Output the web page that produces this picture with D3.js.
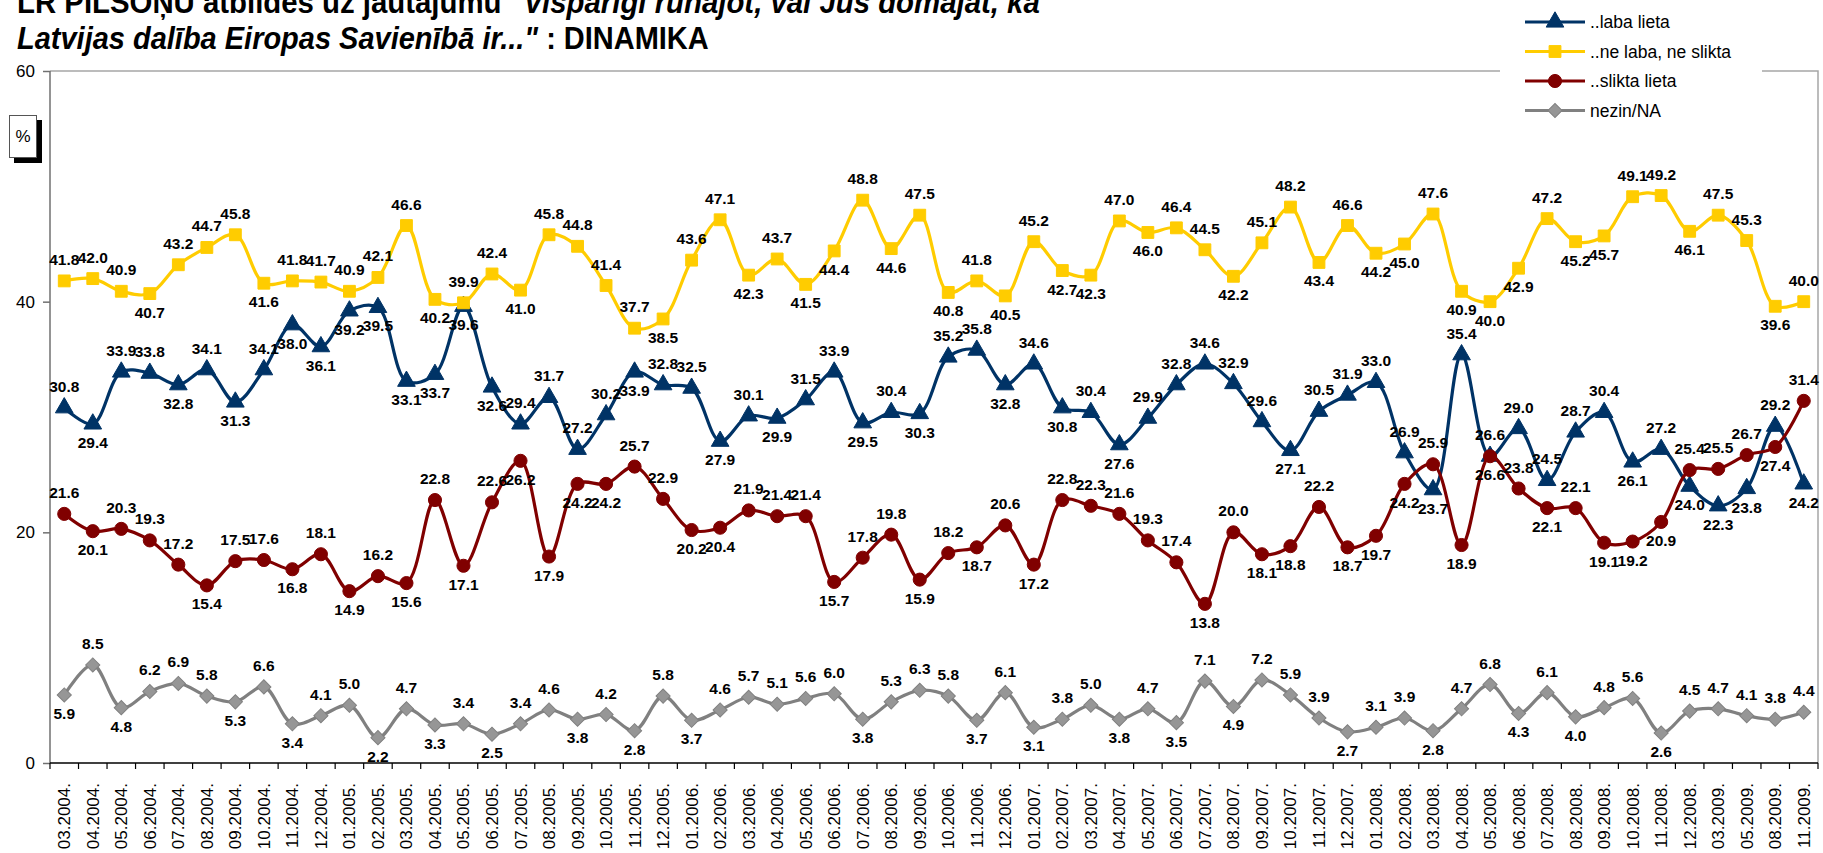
<!DOCTYPE html>
<html lang="lv">
<head>
<meta charset="UTF-8">
<title>Dinamika</title>
<script src="https://cdn.jsdelivr.net/npm/d3@7"></script>
<style>
  body { margin: 0; background: #fff; }
  svg { display: block; font-family: "Liberation Sans", Arial, sans-serif; }
  .lbl { font-size: 15.5px; font-weight: bold; fill: #000; }
  .xlab { font-size: 17px; fill: #000; }
  .ytick text { font-size: 17px; fill: #000; }
  .legend text { font-size: 17.5px; fill: #000; }
  .title { font-family: "Liberation Sans Narrow", "Arial Narrow", "Liberation Sans", Arial, sans-serif; font-size: 31px; font-weight: bold; }
</style>
</head>
<body>
<svg id="chart" width="1823" height="853"></svg>
<script>
// dati
var months = ["03.2004.","04.2004.","05.2004.","06.2004.","07.2004.","08.2004.","09.2004.","10.2004.","11.2004.","12.2004.",
  "01.2005.","02.2005.","03.2005.","04.2005.","05.2005.","06.2005.","07.2005.","08.2005.","09.2005.","10.2005.","11.2005.","12.2005.",
  "01.2006.","02.2006.","03.2006.","04.2006.","05.2006.","06.2006.","07.2006.","08.2006.","09.2006.","10.2006.","11.2006.","12.2006.",
  "01.2007.","02.2007.","03.2007.","04.2007.","05.2007.","06.2007.","07.2007.","08.2007.","09.2007.","10.2007.","11.2007.","12.2007.",
  "01.2008.","02.2008.","03.2008.","04.2008.","05.2008.","06.2008.","07.2008.","08.2008.","09.2008.","10.2008.","11.2008.","12.2008.",
  "03.2009.","05.2009.","08.2009.","11.2009."];

var labaLieta = [30.8,29.4,33.9,33.8,32.8,34.1,31.3,34.1,38.0,36.1,
  39.2,39.5,33.1,33.7,39.6,32.6,29.4,31.7,27.2,30.2,33.9,32.8,
  32.5,27.9,30.1,29.9,31.5,33.9,29.5,30.4,30.3,35.2,35.8,32.8,
  34.6,30.8,30.4,27.6,29.9,32.8,34.6,32.9,29.6,27.1,30.5,31.9,
  33.0,26.9,23.7,35.4,26.6,29.0,24.5,28.7,30.4,26.1,27.2,24.0,
  22.3,23.8,29.2,24.2];

var neLabaNeSlikta = [41.8,42.0,40.9,40.7,43.2,44.7,45.8,41.6,41.8,41.7,
  40.9,42.1,46.6,40.2,39.9,42.4,41.0,45.8,44.8,41.4,37.7,38.5,
  43.6,47.1,42.3,43.7,41.5,44.4,48.8,44.6,47.5,40.8,41.8,40.5,
  45.2,42.7,42.3,47.0,46.0,46.4,44.5,42.2,45.1,48.2,43.4,46.6,
  44.2,45.0,47.6,40.9,40.0,42.9,47.2,45.2,45.7,49.1,49.2,46.1,
  47.5,45.3,39.6,40.0];

var sliktaLieta = [21.6,20.1,20.3,19.3,17.2,15.4,17.5,17.6,16.8,18.1,
  14.9,16.2,15.6,22.8,17.1,22.6,26.2,17.9,24.2,24.2,25.7,22.9,
  20.2,20.4,21.9,21.4,21.4,15.7,17.8,19.8,15.9,18.2,18.7,20.6,
  17.2,22.8,22.3,21.6,19.3,17.4,13.8,20.0,18.1,18.8,22.2,18.7,
  19.7,24.2,25.9,18.9,26.6,23.8,22.1,22.1,19.1,19.2,20.9,25.4,
  25.5,26.7,27.4,31.4];

var nezinNA = [5.9,8.5,4.8,6.2,6.9,5.8,5.3,6.6,3.4,4.1,
  5.0,2.2,4.7,3.3,3.4,2.5,3.4,4.6,3.8,4.2,2.8,5.8,
  3.7,4.6,5.7,5.1,5.6,6.0,3.8,5.3,6.3,5.8,3.7,6.1,
  3.1,3.8,5.0,3.8,4.7,3.5,7.1,4.9,7.2,5.9,3.9,2.7,
  3.1,3.9,2.8,4.7,6.8,4.3,6.1,4.0,4.8,5.6,2.6,4.5,
  4.7,4.1,3.8,4.4];

var yTicks = [0, 20, 40, 60];

var series = [
  { name: "..laba lieta", values: labaLieta, color: "#003366", fill: "#003366", shape: "triangle" },
  { name: "..ne laba, ne slikta", values: neLabaNeSlikta, color: "#FFCC00", fill: "#FFCC00", shape: "square" },
  { name: "..slikta lieta", values: sliktaLieta, color: "#800000", fill: "#800000", shape: "circle" },
  { name: "nezin/NA", values: nezinNA, color: "#808080", fill: "#969696", shape: "diamond" }
];

var svg = d3.select("#chart");
var pLeft = 50, pRight = 1818, pTop = 71, pBottom = 763;

var x = d3.scaleBand().domain(months).range([pLeft, pRight]).padding(0);
var y = d3.scaleLinear().domain([0, 60]).range([pBottom, pTop]);
var bw = x.bandwidth();
var cx = function (i) { return x(months[i]) + bw / 2; };

// virsraksts (augšējā rinda nogriezta)
function titleLine(yPos, parts, targetRight) {
  var t = svg.append("text").attr("class", "title").attr("x", 0).attr("y", 0);
  parts.forEach(function (p) {
    t.append("tspan").attr("font-style", p.it ? "italic" : "normal").text(p.t);
  });
  var w = t.node().getBBox().width;
  var sx = (targetRight - 17) / w;
  t.attr("transform", "translate(17," + yPos + ") scale(" + sx + ",1)");
}
titleLine(13, [{ t: "LR PILSOŅU atbildes uz jautājumu ", it: false },
               { t: "\"Vispārīgi runājot, vai Jūs domājat, ka", it: true }], 1040);
titleLine(49, [{ t: "Latvijas dalība Eiropas Savienībā ir...\"", it: true },
               { t: " : DINAMIKA", it: false }], 709);

// rāmis
svg.append("path")
  .attr("d", "M" + pLeft + "," + pTop + "H" + pRight + "V" + pBottom)
  .attr("fill", "none").attr("stroke", "#a6a6a6").attr("stroke-width", 1.5);

// y ass
var yAxis = svg.append("g").attr("class", "ytick")
  .attr("transform", "translate(" + pLeft + ",0)")
  .call(d3.axisLeft(y).tickValues(yTicks).tickSize(7).tickPadding(8).tickFormat(d3.format("d")));
yAxis.selectAll("path,line").attr("stroke", "#707070").attr("stroke-width", 1.5);
yAxis.select(".domain").attr("d", "M0," + pTop + "V" + pBottom);
yAxis.attr("font-family", null).attr("font-size", null);

// x ass
svg.append("line").attr("x1", pLeft).attr("x2", pRight).attr("y1", pBottom).attr("y2", pBottom)
  .attr("stroke", "#000").attr("stroke-width", 1.5);
var edges = months.map(function (m) { return x(m); }).concat([pRight]);
svg.append("g").selectAll("line").data(edges).enter().append("line")
  .attr("x1", function (d) { return d; }).attr("x2", function (d) { return d; })
  .attr("y1", pBottom).attr("y2", pBottom + 6)
  .attr("stroke", "#000").attr("stroke-width", 1.2);
svg.append("g").selectAll("text").data(months).enter().append("text")
  .attr("class", "xlab")
  .attr("text-anchor", "end")
  .attr("transform", function (d, i) { return "translate(" + (cx(i) + 6) + "," + 783 + ") rotate(-90)"; })
  .text(function (d) { return d; });

// % lodziņš
svg.append("rect").attr("x", 14).attr("y", 120).attr("width", 28).attr("height", 43).attr("fill", "#000");
svg.append("rect").attr("x", 9.5).attr("y", 115.5).attr("width", 27).attr("height", 42)
  .attr("fill", "#fff").attr("stroke", "#555").attr("stroke-width", 1);
svg.append("text").attr("x", 23).attr("y", 142).attr("text-anchor", "middle")
  .attr("font-size", "17px").text("%");

// marķieri
function markerPath(shape) {
  if (shape === "triangle") return d3.symbol().type(d3.symbolTriangle).size(135)();
  if (shape === "square") return d3.symbol().type(d3.symbolSquare).size(140)();
  if (shape === "circle") return d3.symbol().type(d3.symbolCircle).size(135)();
  return d3.symbol().type(d3.symbolSquare).size(100)();
}
function markerRot(shape) { return shape === "diamond" ? " rotate(45)" : ""; }

var line = d3.line()
  .x(function (d, i) { return cx(i); })
  .y(function (d) { return y(d); })
  .curve(d3.curveCatmullRom.alpha(0.5));

series.forEach(function (s) {
  var g = svg.append("g");
  g.append("path").datum(s.values).attr("d", line)
    .attr("fill", "none").attr("stroke", s.color).attr("stroke-width", 3.2);
  g.selectAll(".m").data(s.values).enter().append("path")
    .attr("d", markerPath(s.shape))
    .attr("transform", function (d, i) { return "translate(" + cx(i) + "," + y(d) + ")" + markerRot(s.shape); })
    .attr("fill", s.fill).attr("stroke", s.color).attr("stroke-width", 1);
});

// datu etiķetes: virs vai zem punkta
function labelUp(s, i) {
  var v = s.values, nb = [];
  if (i > 0) nb.push(v[i - 1]);
  if (i < v.length - 1) nb.push(v[i + 1]);
  var up = v[i] >= d3.mean(nb) - 0.6;
  var blocked = series.some(function (o) {
    if (o === s) return false;
    var d = o.values[i] - v[i];
    return up ? (d > 0 && d < 4) : (d < 0 && -d < 5.5);
  });
  if (blocked) up = !up;
  return up;
}
series.forEach(function (s) {
  svg.append("g").selectAll("text").data(s.values).enter().append("text")
    .attr("class", "lbl")
    .attr("text-anchor", "middle")
    .attr("x", function (d, i) { return cx(i); })
    .attr("y", function (d, i) { return y(d) + (labelUp(s, i) ? -16 : 24); })
    .text(function (d) { return d3.format(".1f")(d); });
});

// leģenda
var lg = svg.append("g").attr("class", "legend");
lg.append("rect").attr("x", 1500).attr("y", 0).attr("width", 262).attr("height", 126).attr("fill", "#fff");
series.forEach(function (s, k) {
  var ly = 22 + k * 29.5;
  lg.append("line").attr("x1", 1525).attr("x2", 1585).attr("y1", ly).attr("y2", ly)
    .attr("stroke", s.color).attr("stroke-width", 3.2);
  lg.append("path").attr("d", markerPath(s.shape))
    .attr("transform", "translate(1555," + ly + ")" + markerRot(s.shape))
    .attr("fill", s.fill).attr("stroke", s.color).attr("stroke-width", 1);
  lg.append("text").attr("x", 1590).attr("y", ly + 6).text(s.name);
});
</script>
</body>
</html>
